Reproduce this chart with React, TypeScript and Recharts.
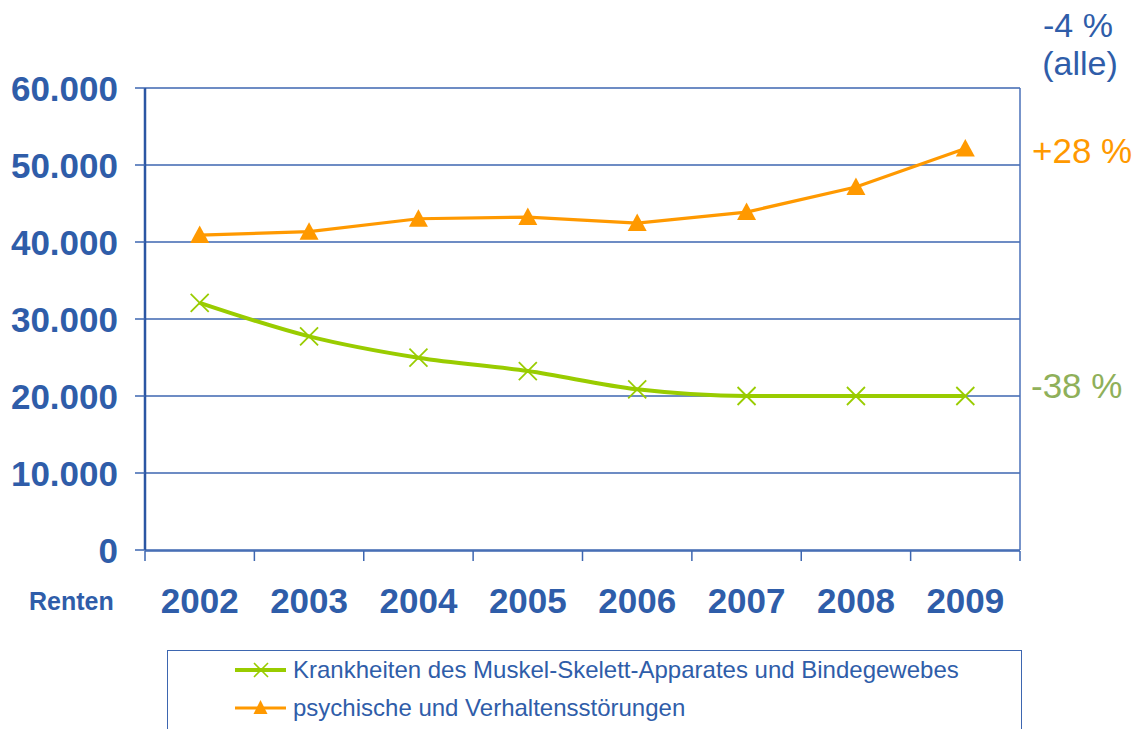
import React from 'react';
import { LineChart, Line, XAxis, YAxis, CartesianGrid, Legend } from 'recharts';

const years = ['2002', '2003', '2004', '2005', '2006', '2007', '2008', '2009'];
const muskelSkelett = [32100, 27750, 24970, 23240, 20870, 20000, 20000, 20000];
const psychisch = [40900, 41340, 43020, 43240, 42460, 43890, 47150, 52150];
const yTicks = [0, 10000, 20000, 30000, 40000, 50000, 60000];
const boundaryTicks = [0, 1, 2, 3, 4, 5, 6, 7, 8];

const seriesNames = {
  ms: 'Krankheiten des Muskel-Skelett-Apparates und Bindegewebes',
  ps: 'psychische und Verhaltensstörungen',
};

const data = years.map((y, i) => ({ year: y, idx: i, ms: muskelSkelett[i], ps: psychisch[i] }));

const BLUE = '#2F5DA9';
const GRID = '#3D66B0';
const GREEN = '#99CC00';
const ORANGE = '#FF9900';
const FONT = '"Liberation Sans", Arial, sans-serif';

const fmt = (v: number) => String(v).replace(/\B(?=(\d{3})+(?!\d))/g, '.');

const Triangle = (props: any) => {
  const { cx, cy } = props;
  if (cx == null || cy == null) return <g />;
  return <polygon points={`${cx},${cy - 9.5} ${cx - 9.5},${cy + 8} ${cx + 9.5},${cy + 8}`} fill={ORANGE} />;
};

const Cross = (props: any) => {
  const { cx, cy } = props;
  if (cx == null || cy == null) return <g />;
  return (
    <g stroke={GREEN} strokeWidth={1.8}>
      <line x1={cx - 9} y1={cy - 9} x2={cx + 9} y2={cy + 9} />
      <line x1={cx - 9} y1={cy + 9} x2={cx + 9} y2={cy - 9} />
    </g>
  );
};

const YTick = (props: any) => {
  const { x, y, payload } = props;
  return (
    <text x={x} y={y} dy="0.36em" textAnchor="end" fill={BLUE} fontFamily={FONT} fontWeight="bold" fontSize={35}>
      {fmt(payload.value)}
    </text>
  );
};

const XTick = (props: any) => {
  const { x, y, payload } = props;
  return (
    <text x={x} y={y} dy="0.36em" textAnchor="middle" fill={BLUE} fontFamily={FONT} fontWeight="bold" fontSize={35}>
      {payload.value}
    </text>
  );
};

const LegendContent = () => (
  <div
    style={{
      boxSizing: 'border-box',
      width: 855,
      height: 110,
      border: `1.5px solid ${GRID}`,
      fontFamily: FONT,
      fontSize: 24,
      color: BLUE,
      paddingLeft: 67,
      paddingTop: 0,
    }}
  >
    {[
      { key: 'ms', color: GREEN, icon: 'x' },
      { key: 'ps', color: ORANGE, icon: 't' },
    ].map((e) => (
      <div key={e.key} style={{ display: 'flex', alignItems: 'center', height: 38 }}>
        <svg width={58} height={24} style={{ flex: 'none' }}>
          <line x1={0} y1={12} x2={51} y2={12} stroke={e.color} strokeWidth={e.icon === 'x' ? 4 : 3} />
          {e.icon === 'x' ? (
            <g stroke={e.color} strokeWidth={1.6}>
              <line x1={19} y1={5} x2={33} y2={19} />
              <line x1={19} y1={19} x2={33} y2={5} />
            </g>
          ) : (
            <polygon points="25.5,4 18.5,18 32.5,18" fill={e.color} />
          )}
        </svg>
        <span style={{ whiteSpace: 'nowrap' }}>{(seriesNames as any)[e.key]}</span>
      </div>
    ))}
  </div>
);

export default function App() {
  return (
    <div style={{ position: 'absolute', left: 0, top: 0, width: 1143, height: 729, overflow: 'hidden', background: '#fff' }}>
      <LineChart width={1143} height={729} data={data} margin={{ top: 88, right: 122, bottom: 177, left: 85 }}>
        <CartesianGrid horizontal vertical={false} stroke={GRID} strokeWidth={1.5} xAxisId="cat" yAxisId="left" />
        <XAxis
          xAxisId="num"
          dataKey="idx"
          type="number"
          domain={[0, 8]}
          allowDataOverflow
          ticks={boundaryTicks}
          interval={0}
          height={1}
          tickSize={10}
          tick={() => <g />}
          axisLine={{ stroke: GRID, strokeWidth: 1.5 }}
          tickLine={{ stroke: GRID, strokeWidth: 1.5 }}
        />
        <XAxis
          xAxisId="cat"
          dataKey="year"
          type="category"
          scale="band"
          height={1}
          axisLine={false}
          tickLine={false}
          tickSize={0}
          tickMargin={50}
          interval={0}
          tick={<XTick />}
        />
        <YAxis
          yAxisId="left"
          domain={[0, 60000]}
          ticks={yTicks}
          interval={0}
          width={60}
          tickSize={10}
          tickMargin={17}
          tick={<YTick />}
          axisLine={{ stroke: '#2B56A3', strokeWidth: 2.5 }}
          tickLine={{ stroke: GRID, strokeWidth: 1.5 }}
        />
        <YAxis
          yAxisId="right"
          orientation="right"
          domain={[0, 60000]}
          width={1}
          tick={false}
          tickLine={false}
          axisLine={{ stroke: '#4A70B8', strokeWidth: 1.5 }}
        />
        <Legend
          layout="horizontal"
          verticalAlign="middle"
          align="center"
          content={<LegendContent />}
          wrapperStyle={{ position: 'absolute', left: 167, top: 650, width: 855, height: 110 }}
        />
        <Line
          xAxisId="cat"
          yAxisId="left"
          dataKey="ms"
          name={seriesNames.ms}
          type="monotone"
          stroke={GREEN}
          strokeWidth={4}
          dot={<Cross />}
          activeDot={false}
          isAnimationActive={false}
        />
        <Line
          xAxisId="cat"
          yAxisId="left"
          dataKey="ps"
          name={seriesNames.ps}
          type="linear"
          stroke={ORANGE}
          strokeWidth={3.2}
          dot={<Triangle />}
          activeDot={false}
          isAnimationActive={false}
        />
      </LineChart>
      <svg width={1143} height={729} style={{ position: 'absolute', left: 0, top: 0, pointerEvents: 'none' }}>
        <text x={29} y={610} fill={BLUE} fontFamily={FONT} fontWeight="bold" fontSize={25}>Renten</text>
        <text x={1078} y={37} textAnchor="middle" fill={BLUE} fontFamily={FONT} fontSize={34}>-4 %</text>
        <text x={1080} y={75} textAnchor="middle" fill={BLUE} fontFamily={FONT} fontSize={34}>(alle)</text>
        <text x={1032} y={163} fill={ORANGE} fontFamily={FONT} fontSize={35}>+28 %</text>
        <text x={1031} y={398} fill="#8FB05A" fontFamily={FONT} fontSize={35}>-38 %</text>
      </svg>
    </div>
  );
}
